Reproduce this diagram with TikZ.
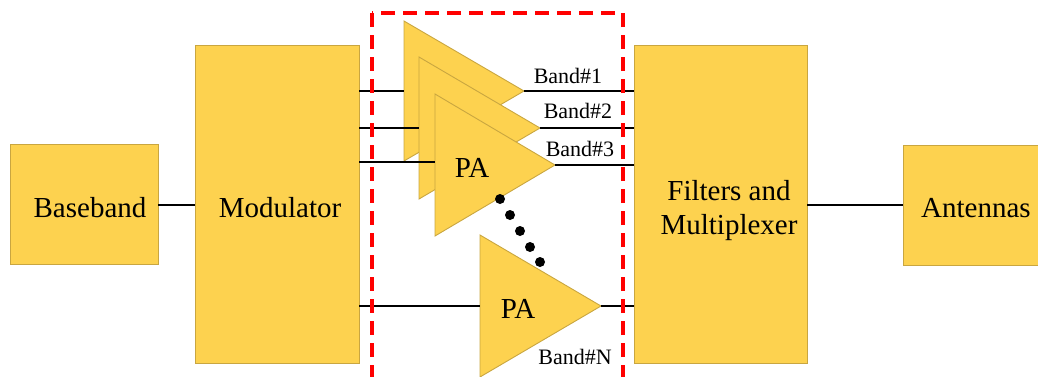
\documentclass[tikz,border=0pt]{standalone}
\usepackage{fontspec}
\setmainfont{Liberation Serif}
\definecolor{boxfill}{HTML}{FDD24F}
\definecolor{boxline}{HTML}{C9A640}
\begin{document}
\begin{tikzpicture}[x=1pt,y=-1pt,
  blk/.style={draw=boxline,fill=boxfill,line width=0.9pt},
  wire/.style={draw=black,line width=1.6pt},
  lbl/.style={font=\fontsize{29}{34}\selectfont,align=center,inner sep=0pt},
  bandlbl/.style={font=\fontsize{22}{26}\selectfont,inner sep=0pt},
  dotc/.style={fill=black,circle,inner sep=0pt,minimum size=10pt}]
\useasboundingbox (0,0) rectangle (1038,376);
% blocks
\draw[blk] (10,144) rectangle (158,264);
\draw[blk] (195,45) rectangle (359,363);
\draw[blk] (634,45) rectangle (807,363);
\draw[blk] (903,145) rectangle (1060,265);
\node[lbl] (bb) at (90,208) {Baseband};
\node[lbl] (mod) at (280,208) {Modulator};
\node[lbl] (fm) at (729,211) {Filters and\\Multiplexer};
\node[lbl,anchor=west] (ant) at (921,208) {Antennas};
\coordinate (bbR) at (158,205);
\coordinate (modL) at (195,205);
\coordinate (fmR) at (807,205);
\coordinate (antL) at (903,205);
% triangles
\draw[blk] (404,21) -- (524,91) -- (404,161) -- cycle;
\draw[blk] (419,57) -- (540,128) -- (419,199) -- cycle;
\draw[blk] (435,94) -- (555,165) -- (435,236) -- cycle;
\draw[blk] (480,235) -- (601,306) -- (480,377) -- cycle;
\coordinate (t1in) at (404,91);  \coordinate (t1out) at (524,91);
\coordinate (t2in) at (419,128); \coordinate (t2out) at (540,128);
\coordinate (t3in) at (435,162); \coordinate (t3out) at (555,165);
\coordinate (t4in) at (480,306); \coordinate (t4out) at (601,306);
\coordinate (m1) at (359,91);  \coordinate (f1) at (634,91);
\coordinate (m2) at (359,128); \coordinate (f2) at (634,128);
\coordinate (m3) at (359,162); \coordinate (f3) at (634,165);
\coordinate (m4) at (359,306); \coordinate (f4) at (634,306);
\node[lbl] (pa1) at (472,168) {PA};
\node[lbl] (pa2) at (518,309) {PA};
% wires
\draw[wire] (bbR) -- (modL);
\draw[wire] (fmR) -- (antL);
\draw[wire] (m1) -- (t1in); \draw[wire] (t1out) -- (f1);
\draw[wire] (m2) -- (t2in); \draw[wire] (t2out) -- (f2);
\draw[wire] (m3) -- (t3in); \draw[wire] (t3out) -- (f3);
\draw[wire] (m4) -- (t4in); \draw[wire] (t4out) -- (f4);
% band labels
\node[bandlbl] (b1) at (568,76) {Band\#1};
\node[bandlbl] (b2) at (578,111) {Band\#2};
\node[bandlbl] (b3) at (580,149) {Band\#3};
\node[bandlbl] (bn) at (575,357) {Band\#N};
% dots
\node[dotc] (d1) at (500,199) {};
\node[dotc] (d2) at (510,215) {};
\node[dotc] (d3) at (520,231) {};
\node[dotc] (d4) at (530,247) {};
\node[dotc] (d5) at (540,262) {};
% red dashed box
\draw[red,line width=3.6pt,dash pattern=on 14pt off 8pt] (372,13) rectangle (623,378.5);
\end{tikzpicture}
\end{document}
